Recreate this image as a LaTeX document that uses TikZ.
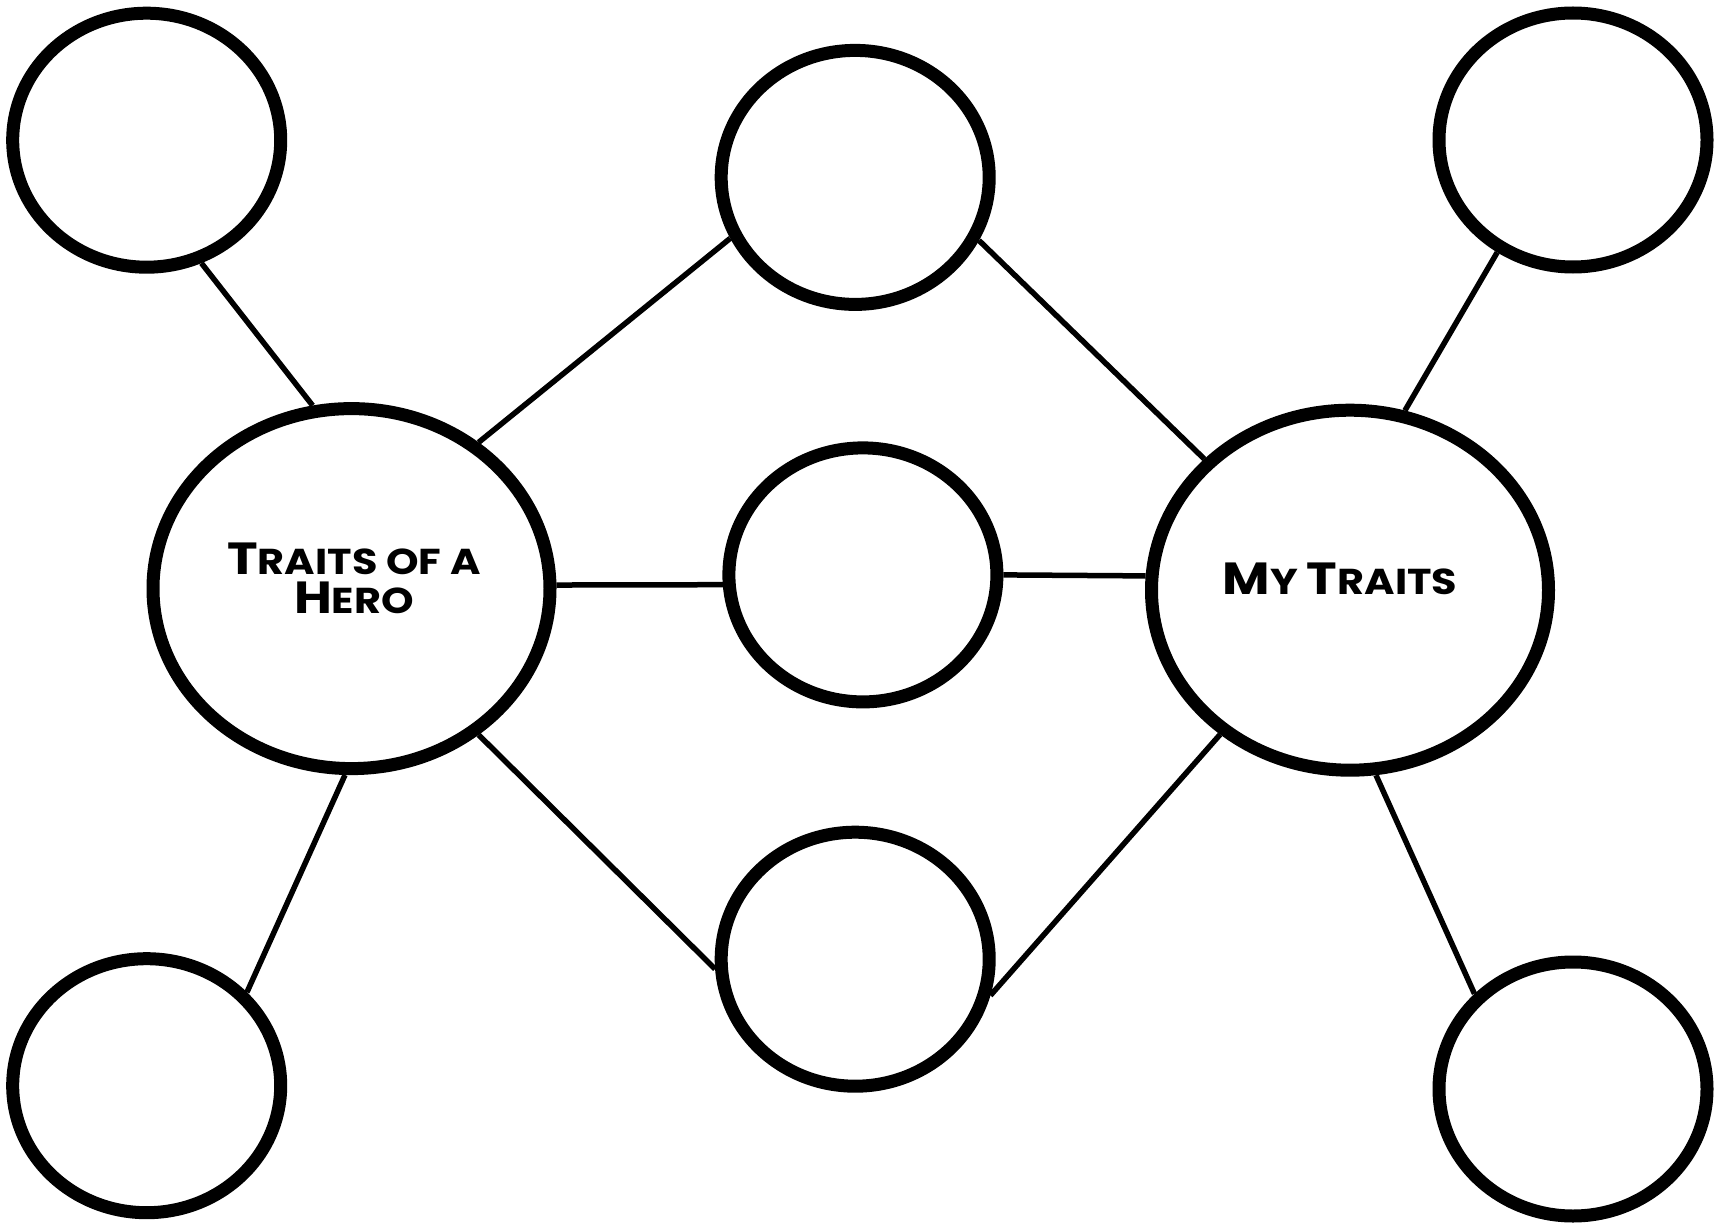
\documentclass[tikz,border=0pt]{standalone}
\usepackage{fontspec}
\newfontfamily\herofont{Poppins}[FakeStretch=1.15]
\usetikzlibrary{shapes.geometric}
\newcommand{\bigL}[1]{{\fontsize{45}{39}\selectfont #1}}
\begin{document}
\begin{tikzpicture}[x=1pt,y=-1pt,
  bubble/.style={ellipse,draw=black,line width=13pt,fill=white,minimum width=268pt,minimum height=254pt,inner sep=0pt},
  bigbubble/.style={bubble,minimum width=397pt,minimum height=360pt},
  link/.style={draw=black,line width=5.5pt},
  title/.style={font=\herofont\bfseries\fontsize{36}{39}\selectfont,align=center,inner sep=0pt}]
\useasboundingbox (0,0) rectangle (1717,1225);
\node[bubble] (tl) at (146.7,140.2) {};
\node[bubble] (tm) at (855.2,177.4) {};
\node[bubble] (tr) at (1573,140) {};
\node[bigbubble] (l) at (351.5,588.6) {};
\node[bubble] (c) at (862.9,574.9) {};
\node[bigbubble] (r) at (1350,590.2) {};
\node[bubble] (bm) at (855.2,959.2) {};
\node[bubble] (bl) at (146.7,1085.7) {};
\node[bubble] (br) at (1573,1089) {};
\node[title] (lt) at (354,578) {\bigL{T}RAITS OF A\\\bigL{H}ERO};
\node[title] (rt) at (1340,579) {\bigL{M}Y \bigL{T}RAITS};
\draw[link] (tl.-66.8) -- (l.102.3);
\draw[link] (l.49.8) -- (tm.206.8);
\draw[link] (tm.-27.1) -- (r.138.6);
\draw[link] (r.73.3) -- (tr.-124.3);
\draw[link] (l.1.6) -- (c.184.3);
\draw[link] (c.0.4) -- (r.176.1);
\draw[link] (l.-49.2) -- (bm.184);
\draw[link] (bm.-15.3) -- (r.228.6);
\draw[link] (l.-92.3) -- (bl.43.2);
\draw[link] (r.-82) -- (br.136.6);
\end{tikzpicture}
\end{document}
